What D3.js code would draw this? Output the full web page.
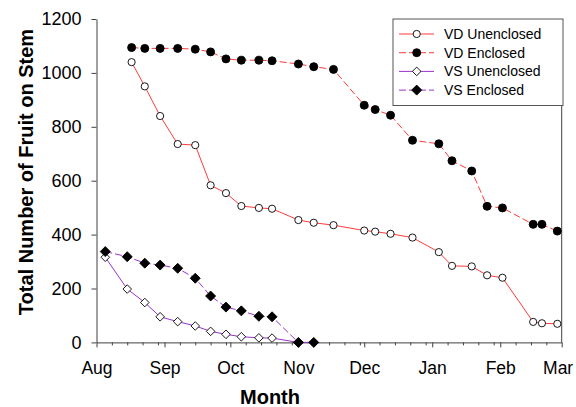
<!DOCTYPE html>
<html>
<head>
<meta charset="utf-8">
<script src="https://cdn.jsdelivr.net/npm/d3@7"></script>
<style>
  html, body { margin: 0; padding: 0; background: #fff; }
  svg { display: block; font-family: "Liberation Sans", Arial, sans-serif; }
</style>
</head>
<body>
<svg id="chart" width="576" height="407"></svg>
<script>
// ---- Data ----
const vdDates = ["2001-08-17","2001-08-23","2001-08-30","2001-09-07","2001-09-15","2001-09-22","2001-09-29",
  "2001-10-06","2001-10-14","2001-10-20","2001-11-01","2001-11-08","2001-11-17","2001-12-01","2001-12-06",
  "2001-12-13","2001-12-23","2002-01-04","2002-01-10","2002-01-19","2002-01-26","2002-02-02","2002-02-16",
  "2002-02-20","2002-02-27"];
const vdUnenclosed = [1040, 950, 840, 736, 732, 583, 554, 506, 499, 496, 454, 444, 435, 415, 411, 403, 389,
  335, 284, 282, 249, 240, 76, 71, 69];
const vdEnclosed = [1094, 1091, 1091, 1091, 1088, 1078, 1052, 1047, 1047, 1045, 1033, 1023, 1013, 880, 864,
  843, 750, 737, 674, 636, 505, 499, 438, 438, 413];

const vsDates = ["2001-08-05","2001-08-15","2001-08-23","2001-08-30","2001-09-07","2001-09-15","2001-09-22",
  "2001-09-29","2001-10-06","2001-10-14","2001-10-20","2001-11-01","2001-11-08"];
const vsUnenclosed = [316, 198, 148, 95, 77, 61, 41, 30, 21, 17, 16, 0, 0];
const vsEnclosed = [337, 318, 294, 287, 275, 238, 172, 131, 117, 97, 95, 0, 0];

const monthTicks = ["2001-08-01","2001-09-01","2001-10-01","2001-11-01","2001-12-01","2002-01-01","2002-02-01","2002-03-01"];
const yTicks = [0, 200, 400, 600, 800, 1000, 1200];
const minorDays = [8, 15, 22, 29];

const seriesNames = ["VD Unenclosed", "VD Enclosed", "VS Unenclosed", "VS Enclosed"];

// ---- Setup ----
const parse = d3.timeParse("%Y-%m-%d");
const svg = d3.select("#chart");
const font = '"Liberation Sans", Arial, sans-serif';

const x = d3.scaleTime()
  .domain([parse(monthTicks[0]), parse(monthTicks[monthTicks.length - 1])])
  .range([96.5, 561.7]);
const y = d3.scaleLinear().domain([0, 1200]).range([342.4, 19]);

const RED = "#ff3b3b";
const PURPLE = "#9933cc";
const AXIS = "#404040";

// minor ticks: days 8,15,22,29 of each month
const minorTicks = [];
for (let i = 0; i < monthTicks.length - 1; i++) {
  const m = parse(monthTicks[i]);
  const next = parse(monthTicks[i + 1]);
  minorDays.forEach(dd => {
    const t = new Date(m.getFullYear(), m.getMonth(), dd);
    if (t < next) minorTicks.push(t);
  });
}

// ---- Axes ----
const gxMinor = svg.append("g").attr("transform", `translate(0,${y(0)})`)
  .call(d3.axisBottom(x).tickValues(minorTicks).tickSize(3).tickFormat(""));
gxMinor.select(".domain").remove();
gxMinor.selectAll("line").attr("stroke", AXIS);

const gx = svg.append("g").attr("transform", `translate(0,${y(0)})`)
  .call(d3.axisBottom(x).tickValues(monthTicks.map(parse)).tickSize(5).tickSizeOuter(0)
    .tickPadding(14).tickFormat(d3.timeFormat("%b")));
gx.select(".domain").attr("stroke", AXIS);
gx.selectAll("line").attr("stroke", AXIS);
gx.selectAll("text").attr("font-size", 17.5).attr("font-family", font).attr("fill", "#000");
// last label (Mar) sits slightly left so it stays inside the picture, as in the reference
gx.selectAll(".tick").filter((d, i, n) => i === n.length - 1).select("text")
  .attr("text-anchor", "end").attr("x", 11);

const gy = svg.append("g").attr("transform", `translate(${x.range()[0]},0)`)
  .call(d3.axisLeft(y).tickValues(yTicks).tickSize(5).tickSizeOuter(0).tickPadding(10)
    .tickFormat(d3.format("d")));
gy.select(".domain").attr("stroke", AXIS);
gy.selectAll("line").attr("stroke", AXIS);
gy.selectAll("text").attr("font-size", 18).attr("font-family", font).attr("fill", "#000");

// right border
svg.append("line")
  .attr("x1", x.range()[1]).attr("x2", x.range()[1])
  .attr("y1", y(1200)).attr("y2", y(0))
  .attr("stroke", AXIS).attr("stroke-width", 1);

// Axis titles
svg.append("text")
  .attr("x", 270).attr("y", 404)
  .attr("text-anchor", "middle").attr("font-size", 20).attr("font-weight", "bold")
  .attr("font-family", font).text("Month");
svg.append("text")
  .attr("transform", `translate(33,172) rotate(-90)`)
  .attr("text-anchor", "middle").attr("font-size", 20).attr("font-weight", "bold")
  .attr("font-family", font).text("Total Number of Fruit on Stem");

// ---- Series ----
const series = [
  { name: seriesNames[0], dates: vdDates, values: vdUnenclosed, color: RED, dash: null, marker: "circle", fill: "#fff" },
  { name: seriesNames[1], dates: vdDates, values: vdEnclosed, color: RED, dash: "7,3", marker: "circle", fill: "#000" },
  { name: seriesNames[2], dates: vsDates, values: vsUnenclosed, color: PURPLE, dash: null, marker: "diamond", fill: "#fff" },
  { name: seriesNames[3], dates: vsDates, values: vsEnclosed, color: PURPLE, dash: "7,3", marker: "diamond", fill: "#000" }
];

const line = d3.line().x(d => x(d.date)).y(d => y(d.value));

function drawMarker(g, type, fill, cx, cy) {
  if (type === "circle") {
    const r = fill === "#000" ? 4 : 3.6;
    g.append("circle").attr("cx", cx).attr("cy", cy).attr("r", r)
      .attr("fill", fill).attr("stroke", "#000").attr("stroke-width", 0.9);
  } else {
    const s = fill === "#000" ? 5 : 4.3;
    g.append("path")
      .attr("d", `M${cx},${cy - s}L${cx + s},${cy}L${cx},${cy + s}L${cx - s},${cy}Z`)
      .attr("fill", fill).attr("stroke", "#000").attr("stroke-width", 0.9);
  }
}

series.forEach(s => {
  const pts = s.dates.map((d, i) => ({ date: parse(d), value: s.values[i] }));
  svg.append("path").datum(pts)
    .attr("d", line).attr("fill", "none")
    .attr("stroke", s.color).attr("stroke-width", 1)
    .attr("stroke-dasharray", s.dash);
  const g = svg.append("g");
  pts.forEach(p => drawMarker(g, s.marker, s.fill, x(p.date), y(p.value)));
});

// ---- Legend ----
const lg = svg.append("g");
lg.append("rect").attr("x", 393).attr("y", 19).attr("width", 170).attr("height", 86.5)
  .attr("fill", "#fff").attr("stroke", "#555").attr("stroke-width", 1);
series.forEach((s, i) => {
  const cy = 34 + i * 18.7;
  lg.append("line").attr("x1", 399).attr("x2", 434).attr("y1", cy).attr("y2", cy)
    .attr("stroke", s.color).attr("stroke-width", 1).attr("stroke-dasharray", s.dash);
  drawMarker(lg, s.marker, s.fill, 416.7, cy);
  lg.append("text").attr("x", 444).attr("y", cy + 5)
    .attr("font-size", 14).attr("font-family", font).attr("fill", "#000").text(s.name);
});
</script>
</body>
</html>
